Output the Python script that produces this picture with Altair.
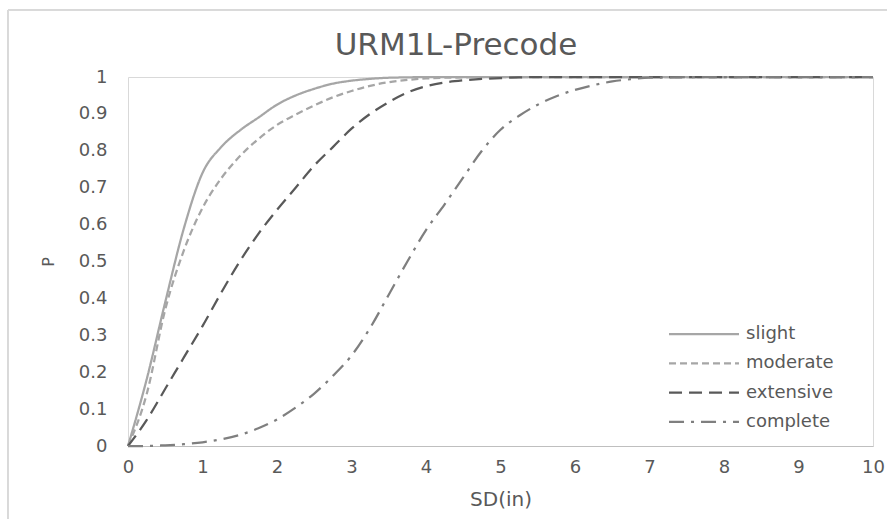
import altair as alt
import pandas as pd

# Spectral displacement (in) at which each fragility curve is sampled
sd = [0, 0.25, 0.5, 0.75, 1, 1.25, 1.5, 1.75, 2, 2.25, 2.5, 2.75, 3,
      3.25, 3.5, 3.75, 4, 4.25, 4.5, 4.75, 5, 5.25, 5.5, 5.75, 6,
      6.25, 6.5, 6.75, 7, 8, 9, 10]

# Probability of reaching or exceeding each damage state
slight = [0, 0.18, 0.39, 0.59, 0.74, 0.81, 0.855, 0.89, 0.925, 0.95,
          0.968, 0.982, 0.99, 0.995, 0.998, 0.999, 1, 1, 1, 1, 1,
          1, 1, 1, 1, 1, 1, 1, 1, 1, 1, 1]
moderate = [0, 0.14, 0.37, 0.53, 0.645, 0.725, 0.785, 0.832, 0.87, 0.898,
            0.923, 0.945, 0.962, 0.976, 0.986, 0.992, 0.996, 0.998, 0.999, 1, 1,
            1, 1, 1, 1, 1, 1, 1, 1, 1, 1, 1]
extensive = [0, 0.07, 0.155, 0.24, 0.325, 0.415, 0.5, 0.575, 0.64, 0.70,
             0.76, 0.81, 0.86, 0.90, 0.932, 0.958, 0.975, 0.985, 0.991, 0.995, 0.997,
             0.999, 1, 1, 1, 1, 1, 1, 1, 1, 1, 1]
complete = [0, 0, 0.002, 0.005, 0.01, 0.018, 0.03, 0.048, 0.072, 0.104,
            0.142, 0.19, 0.245, 0.32, 0.41, 0.50, 0.585, 0.655, 0.728, 0.80, 0.857,
            0.895, 0.925, 0.948, 0.965, 0.978, 0.988, 0.994, 0.998, 1, 1, 1]

states = ["slight", "moderate", "extensive", "complete"]
series = [slight, moderate, extensive, complete]
colors = ["#a6a6a6", "#a6a6a6", "#595959", "#7f7f7f"]
dashes = [[1, 0], [7, 4], [13, 7], [15, 7, 3, 7]]
widths = [2.25, 2.25, 3, 2.5]

rows = []
for name, values in zip(states, series):
    for x, p in zip(sd, values):
        rows.append({"SD": x, "P": p, "state": name})
df = pd.DataFrame(rows)

FONT = "DejaVu Sans"
TEXT = "#595959"
TITLE = "URM1L-Precode"

# Legend keys are long horizontal strokes: a wide custom path keeps the
# entries compact vertically while the sample line stays ~70px long.
legend = alt.Legend(
    title=None,
    orient="none",
    legendX=540,
    legendY=247,
    symbolType="M-4,0H4",
    symbolSize=306,
    symbolOffset=26,
    labelFontSize=18,
    labelColor=TEXT,
    labelFont=FONT,
    rowPadding=10.3,
    labelOffset=32,
)

lines = alt.Chart(df).mark_line(interpolate="monotone").encode(
    x=alt.X("SD:Q", title="SD(in)",
            scale=alt.Scale(domain=[0, 10], nice=False),
            axis=alt.Axis(values=list(range(0, 11)), labelOverlap=False,
                          labelFlush=False)),
    y=alt.Y("P:Q", title="P",
            scale=alt.Scale(domain=[0, 1], nice=False),
            axis=alt.Axis(values=[i / 10 for i in range(11)], labelOverlap=False,
                          labelFlush=False,
                          labelExpr="datum.value == 0 ? '0' : datum.value == 1 ? '1' : format(datum.value, '.1f')")),
    color=alt.Color("state:N", sort=states, legend=legend,
                    scale=alt.Scale(domain=states, range=colors)),
    strokeDash=alt.StrokeDash("state:N", sort=states, legend=legend,
                              scale=alt.Scale(domain=states, range=dashes)),
    strokeWidth=alt.StrokeWidth("state:N", sort=states, legend=legend,
                                scale=alt.Scale(domain=states, range=widths)),
    order=alt.Order("SD:Q"),
)

# Light outer frame around the whole figure
frame = alt.Chart(df).mark_rect(fill=None, stroke="#d9d9d9", strokeWidth=1).encode(
    x=alt.value(-120), x2=alt.value(790), y=alt.value(-67), y2=alt.value(470)
)

# Chart heading, centred on the figure
heading = alt.Chart(pd.DataFrame({"t": [TITLE]})).mark_text(
    font=FONT, fontSize=31, color=TEXT, align="center", baseline="alphabetic"
).encode(text="t:N", x=alt.value(328), y=alt.value(-22))

chart = alt.layer(frame, lines, heading).properties(
    width=745,
    height=369,
    autosize=alt.AutoSizeParams(type="none"),
    padding={"left": 128, "top": 77, "right": 14, "bottom": 73},
).configure_view(
    stroke="#d9d9d9", strokeWidth=1
).configure_axis(
    grid=False,
    ticks=False,
    domain=False,
    labelFont=FONT,
    labelFontSize=18,
    labelColor=TEXT,
    titleFont=FONT,
    titleColor=TEXT,
    titleFontWeight="normal",
).configure_axisX(
    labelPadding=12,
    titlePadding=13,
    titleFontSize=20,
    domain=True,
    domainColor="#bfbfbf",
).configure_axisY(
    labelPadding=21,
    titlePadding=22,
    titleFontSize=16,
)

chart.save("out.html", embed_options={"renderer": "svg", "actions": False})
